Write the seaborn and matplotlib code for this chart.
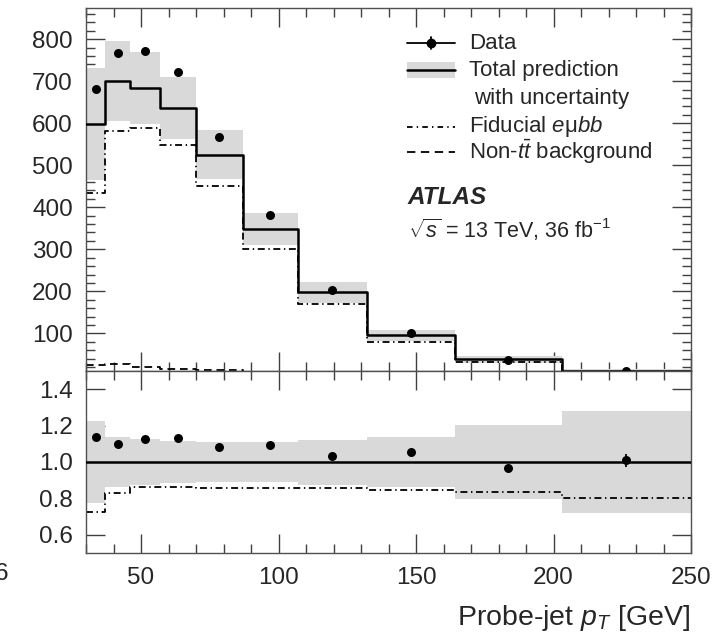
import numpy as np
import pandas as pd
import matplotlib
matplotlib.use("Agg")
import matplotlib.pyplot as plt
from matplotlib.ticker import MultipleLocator, FixedLocator, FormatStrFormatter
import seaborn as sns

# Probe-jet pT binning [GeV]
edges = [30, 37, 46, 57, 70, 87, 107, 132, 164, 203, 250]

# Event counts per bin
data = [681, 768, 771, 721, 568, 381, 204, 100, 37, 11.6]
data_err = [3, 3, 3, 3, 2.5, 2, 1.5, 1.0, 0.6, 0.4]
total_pred = [598, 700, 684.5, 635.5, 525, 349, 197.5, 95, 38.3, 11.5]
fiducial_emubb = [434, 582, 589, 549, 451, 300, 169, 80.5, 32, 9.2]
non_ttbar_bkg = [25, 26, 21, 16, 12, 8, 5, 3, 1.5, 0.6]

# Relative uncertainty band on the total prediction
unc_up = [1.224, 1.136, 1.125, 1.116, 1.110, 1.110, 1.123, 1.140, 1.204, 1.279]
unc_down = [0.776, 0.864, 0.875, 0.886, 0.890, 0.890, 0.875, 0.864, 0.794, 0.719]

x_ticks = [50, 100, 150, 200, 250]
main_y_ticks = [100, 200, 300, 400, 500, 600, 700, 800]
ratio_y_ticks = [0.6, 0.8, 1.0, 1.2, 1.4]

sns.set_theme(style="ticks")
FONT = "Liberation Sans"
plt.rcParams["font.family"] = [FONT, "DejaVu Sans"]
plt.rcParams["mathtext.fontset"] = "custom"
plt.rcParams["mathtext.rm"] = FONT
plt.rcParams["mathtext.it"] = FONT + ":italic"
plt.rcParams["mathtext.bf"] = FONT + ":bold"
plt.rcParams["lines.scale_dashes"] = False

BAND = "#d9d9d9"
DASHDOT = (0, (5.0, 2.6, 1.0, 2.6))
DASHED = (0, (5.5, 3.5))
TICK_FS = 17.5

edges_a = np.array(edges, dtype=float)
centers = 0.5 * (edges_a[:-1] + edges_a[1:])
pred = np.array(total_pred)
dat = np.array(data)


def step_frame(values):
    v = list(values)
    return pd.DataFrame({"x": edges, "y": v + [v[-1]]})


fig = plt.figure(figsize=(7.2, 6.36), dpi=100)
W, H = 720.0, 636.0
ax = fig.add_axes([86 / W, 1 - 371 / H, 605 / W, 363 / H])
rax = fig.add_axes([86 / W, 1 - 553 / H, 605 / W, 182 / H], sharex=ax)

# ---- main panel ----
band_lo = pred * np.array(unc_down)
band_hi = pred * np.array(unc_up)
ax.fill_between(edges, list(band_lo) + [band_lo[-1]], list(band_hi) + [band_hi[-1]],
                step="post", color=BAND, lw=0, zorder=1)

sns.lineplot(data=step_frame(non_ttbar_bkg), x="x", y="y", ax=ax, color="black",
             lw=1.3, linestyle=DASHED, drawstyle="steps-post", estimator=None, zorder=2)
sns.lineplot(data=step_frame(fiducial_emubb), x="x", y="y", ax=ax, color="black",
             lw=1.3, linestyle=DASHDOT, drawstyle="steps-post", estimator=None, zorder=2)
sns.lineplot(data=step_frame(total_pred), x="x", y="y", ax=ax, color="black",
             lw=1.8, drawstyle="steps-post", estimator=None, zorder=3)

ax.errorbar(centers, dat, yerr=data_err, fmt="none", ecolor="black", elinewidth=1.3, zorder=4)
sns.scatterplot(x=centers, y=dat, ax=ax, color="black", s=42, linewidth=0, zorder=5)

ax.set_xlim(30, 250)
ax.set_ylim(10.5, 874)
ax.yaxis.set_major_locator(FixedLocator(main_y_ticks))
ax.yaxis.set_minor_locator(MultipleLocator(20))
ax.set_xlabel("")
ax.set_ylabel("")
plt.setp(ax.get_xticklabels(), visible=False)

# ---- legend ----
tr = ax.transAxes
hx0, hx1, tx = 0.530, 0.610, 0.633
LEG_FS = 16
y_data, y_tot, y_tot2, y_fid, y_bkg = 0.903, 0.829, 0.752, 0.673, 0.604
ax.plot([hx0, hx1], [y_data, y_data], transform=tr, color="black", lw=1.3, clip_on=False, zorder=6)
ax.plot([0.5 * (hx0 + hx1)] * 2, [y_data - 0.017, y_data + 0.017], transform=tr,
        color="black", lw=1.3, clip_on=False, zorder=6)
ax.plot([0.5 * (hx0 + hx1)], [y_data], transform=tr, marker="o", ms=6, color="black",
        clip_on=False, zorder=7)
ax.fill_between([hx0, hx1], [y_tot - 0.022] * 2, [y_tot + 0.022] * 2, transform=tr,
                color=BAND, lw=0, zorder=5)
ax.plot([hx0, hx1], [y_tot, y_tot], transform=tr, color="black", lw=1.8, zorder=6)
ax.plot([hx0, hx1], [y_fid, y_fid], transform=tr, color="black", lw=1.3,
        linestyle=(0, (4.0, 3.0, 1.0, 3.0)), zorder=6)
ax.plot([hx0, hx1], [y_bkg, y_bkg], transform=tr, color="black", lw=1.3,
        linestyle=(0, (6.0, 4.0)), zorder=6)

ax.text(tx, y_data, "Data", transform=tr, fontsize=LEG_FS, va="center")
ax.text(tx, y_tot, "Total prediction", transform=tr, fontsize=LEG_FS, va="center")
ax.text(tx + 0.008, y_tot2, "with uncertainty", transform=tr, fontsize=LEG_FS, va="center")
ax.text(tx, y_fid, "Fiducial $e$\u03bc$bb$", transform=tr, fontsize=LEG_FS, va="center")
ax.text(tx, y_bkg, r"Non-$t\bar{t}$ background", transform=tr, fontsize=LEG_FS, va="center")

ax.text(0.532, 0.477, "ATLAS", transform=tr, fontsize=17.5, fontweight="bold",
        fontstyle="italic", va="center")
ax.text(0.532, 0.388, r"$\sqrt{s}$ = 13 TeV, 36 fb$^{-1}$", transform=tr,
        fontsize=15.5, va="center")

# ---- ratio panel ----
rax.fill_between(edges, list(unc_down) + [unc_down[-1]], list(unc_up) + [unc_up[-1]],
                 step="post", color=BAND, lw=0, zorder=1)
sns.lineplot(data=step_frame(pred / pred), x="x", y="y", ax=rax, color="black",
             lw=1.8, drawstyle="steps-post", estimator=None, zorder=3)
sns.lineplot(data=step_frame(np.array(fiducial_emubb) / pred), x="x", y="y", ax=rax,
             color="black", lw=1.3, linestyle=DASHDOT, drawstyle="steps-post",
             estimator=None, zorder=2)
ratio = dat / pred
ratio_err = np.array(data_err) / pred
rax.errorbar(centers, ratio, yerr=ratio_err, fmt="none", ecolor="black", elinewidth=1.3, zorder=4)
sns.scatterplot(x=centers, y=ratio, ax=rax, color="black", s=42, linewidth=0, zorder=5)

rax.set_ylim(0.5, 1.5)
rax.yaxis.set_major_locator(FixedLocator(ratio_y_ticks))
rax.yaxis.set_major_formatter(FormatStrFormatter("%.1f"))
rax.xaxis.set_major_locator(FixedLocator(x_ticks))
rax.xaxis.set_minor_locator(MultipleLocator(10))
rax.set_ylabel("")
rax.set_xlabel("Probe-jet $p_T$ [GeV]", fontsize=20.5, ha="right", va="center")
rax.xaxis.set_label_coords(0.998, -0.357)

for a in (ax, rax):
    for s in a.spines.values():
        s.set_color("#505050")
        s.set_linewidth(1.0)
    a.tick_params(which="both", direction="in", top=True, right=True,
                  color="#404040", width=1.0, labelsize=TICK_FS)
    a.tick_params(which="major", length=13.5)
    a.tick_params(which="minor", length=6.5)
    a.tick_params(axis="y", pad=9.5)
    a.tick_params(axis="x", pad=10.0)
rax.tick_params(axis="y", which="minor", left=False, right=False)

# clipped glyph at the left edge
fig.text(-5 / W, 1 - 574 / H, "6", fontsize=TICK_FS, ha="left", va="center")

fig.savefig("out.png", dpi=100)
